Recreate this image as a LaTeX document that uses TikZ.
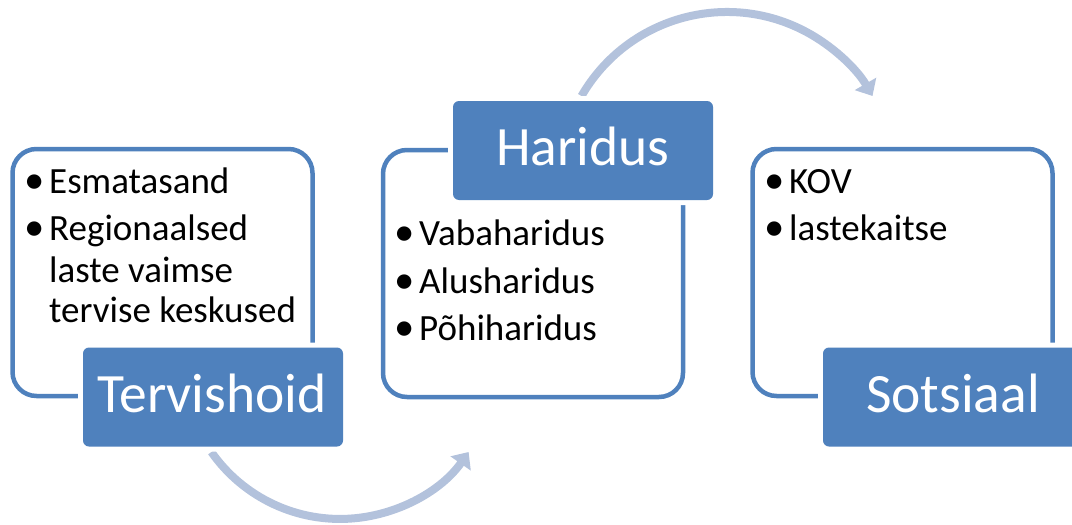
\documentclass[tikz,border=0pt]{standalone}
\usepackage{fontspec}
\setmainfont{Carlito}
\usetikzlibrary{arrows.meta}
\definecolor{accent}{HTML}{4F81BD}
\definecolor{cyccol}{HTML}{B3C2DC}
\newcommand{\bigbul}{\raisebox{-0.7pt}{\scalebox{1.1}{•}}}
\begin{document}
\begin{tikzpicture}[x=1pt,y=1pt,
  outerbox/.style={draw=accent, line width=4.5pt, rounded corners=24pt, fill=white,
    minimum width=300pt, minimum height=247pt, inner sep=0pt},
  titlebox/.style={fill=accent, rounded corners=6pt, minimum width=260pt, minimum height=99pt,
    inner sep=0pt, preaction={draw=white, line width=10pt}},
  titletxt/.style={text=white, font=\fontsize{55.5}{60}\selectfont, inner sep=0pt, anchor=base},
  itemtxt/.style={font=\fontsize{37}{41}\selectfont, inner sep=0pt, anchor=base west},
  cycarrow/.style={draw=cyccol, line width=8pt, -{Triangle[length=14pt,width=24pt]}}
]
\useasboundingbox (0,0) rectangle (1072,-525);

% cycle arrows
\coordinate (s1) at (211.4,-452);
\coordinate (s2) at (581.5,-96);
\draw[cycarrow] (s1) arc[start angle=215, end angle=325, radius=157];
\draw[cycarrow] (s2) arc[start angle=150, end angle=30, radius=168];

% Tervishoid
\node[outerbox] (b1) at (162.5,-272.5) {};
\node[titlebox] (t1) at (213,-397) {};
\node[titletxt] (t1txt) at (212,-412) {Tervishoid};
\node[itemtxt] (b1p1) at (24,-193) {\bigbul};
\node[itemtxt] (b1i1) at (49,-193) {Esmatasand};
\node[itemtxt] (b1p2) at (24,-240) {\bigbul};
\node[itemtxt] (b1i2) at (49,-240) {Regionaalsed};
\node[itemtxt] (b1i3) at (49,-282) {laste vaimse};
\node[itemtxt] (b1i4) at (49,-322) {tervise keskused};

% Haridus
\node[outerbox] (b2) at (533,-273.5) {};
\node[titlebox] (t2) at (583,-150.5) {};
\node[titletxt] (t2txt) at (583,-165) {Haridus};
\node[itemtxt] (b2p1) at (394,-245) {\bigbul};
\node[itemtxt] (b2i1) at (419,-245) {Vabaharidus};
\node[itemtxt] (b2p2) at (394,-293) {\bigbul};
\node[itemtxt] (b2i2) at (419,-293) {Alusharidus};
\node[itemtxt] (b2p3) at (394,-340) {\bigbul};
\node[itemtxt] (b2i3) at (419,-340) {Põhiharidus};

% Sotsiaal
\node[outerbox] (b3) at (902.5,-272.5) {};
\node[titlebox] (t3) at (953,-397) {};
\node[titletxt] (t3txt) at (953,-412) {Sotsiaal};
\node[itemtxt] (b3p1) at (764,-193) {\bigbul};
\node[itemtxt] (b3i1) at (789,-193) {KOV};
\node[itemtxt] (b3p2) at (764,-240) {\bigbul};
\node[itemtxt] (b3i2) at (789,-240) {lastekaitse};
\end{tikzpicture}
\end{document}
